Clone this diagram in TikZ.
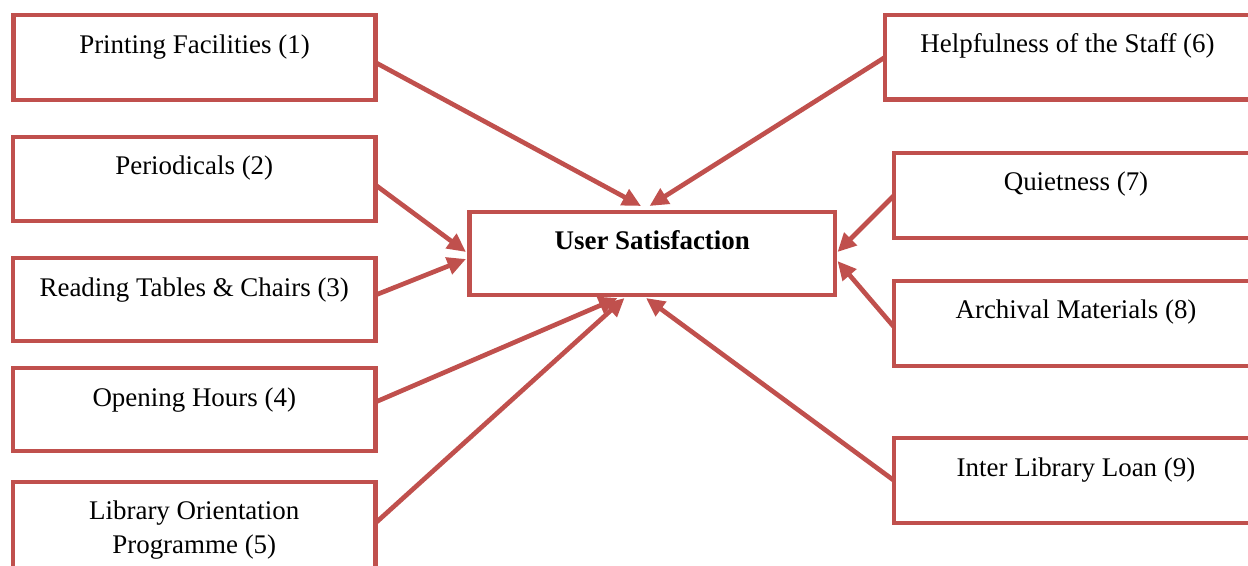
\documentclass[tikz,border=0pt]{standalone}
\usepackage{fontspec}
\setmainfont{Liberation Serif}
\usetikzlibrary{arrows.meta,calc}
\definecolor{boxred}{HTML}{C0504D}

\begin{document}
\begin{tikzpicture}[x=0.75pt,y=-0.75pt,
  box/.style={draw=boxred,line width=3.6pt,fill=white,rectangle,inner sep=0pt,outer sep=0pt},
  lbl/.style={anchor=base,inner sep=0pt,font=\fontsize{20.2}{24}\selectfont},
  conn/.style={draw=boxred,line width=3.5pt,-{Triangle[length=14pt,width=13pt]}}]
\useasboundingbox (0,0) rectangle (1248,565);
\clip (0,0) rectangle (1248,565);

% factor boxes, left column
\node[box,minimum width=271.5pt,minimum height=63.75pt] (b1) at (194.5,57.5) {};
\node[box,minimum width=271.9pt,minimum height=63pt]    (b2) at (194.25,179) {};
\node[box,minimum width=271.9pt,minimum height=62.25pt] (b3) at (194.25,299.5) {};
\node[box,minimum width=271.9pt,minimum height=62.25pt] (b4) at (194.25,409.5) {};
\node[box,minimum width=271.9pt,minimum height=66pt]    (b5) at (194.25,526) {};

% factor boxes, right column
\node[box,minimum width=273.75pt,minimum height=63.4pt] (b6) at (1067.5,57.25) {};
\node[box,minimum width=273pt,minimum height=63.75pt]   (b7) at (1076,195.5) {};
\node[box,minimum width=273pt,minimum height=63.75pt]   (b8) at (1076,323.5) {};
\node[box,minimum width=273pt,minimum height=63.75pt]   (b9) at (1076,480.5) {};

% outcome box
\node[box,minimum width=274.1pt,minimum height=62.25pt] (c) at (652.25,253.5) {};

% labels
\node[lbl] (l1) at ($(b1.north)+(0,38)$) {Printing Facilities (1)};
\node[lbl] (l2) at ($(b2.north)+(0,37)$) {Periodicals (2)};
\node[lbl] (l3) at ($(b3.north)+(0,38)$) {Reading Tables \& Chairs (3)};
\node[lbl] (l4) at ($(b4.north)+(0,38)$) {Opening Hours (4)};
\node[lbl] (l5a) at ($(b5.north)+(0,37)$) {Library Orientation};
\node[lbl] (l5b) at ($(b5.north)+(0,71)$) {Programme (5)};
\node[lbl] (l6) at ($(b6.north)+(0,38)$) {Helpfulness of the Staff (6)};
\node[lbl] (l7) at ($(b7.north)+(0,37)$) {Quietness (7)};
\node[lbl] (l8) at ($(b8.north)+(0,37)$) {Archival Materials (8)};
\node[lbl] (l9) at ($(b9.north)+(0,38)$) {Inter Library Loan (9)};
\node[lbl] (lc) at ($(c.north)+(0,37)$) {\textbf{User Satisfaction}};

% connectors into the outcome box
\draw[conn] ($(b1.east)+(0,5)$)   -- ($(c.north west)+(171.5,-6)$);
\draw[conn] ($(b2.east)+(0,6)$)   -- ($(c.west)+(-3.5,-1.5)$);
\draw[conn] ($(b3.east)+(0,-4.5)$) -- ($(c.west)+(-3.5,5.5)$);
\draw[conn] ($(b4.east)+(0,-7.5)$) -- ($(c.south west)+(148,3)$);
\draw[conn] ($(b5.east)+(0,-3)$)  -- ($(c.south west)+(155,3)$);
\draw[conn] ($(b6.west)+(0,0)$)   -- ($(c.north west)+(180,-6)$);
\draw[conn] ($(b7.west)+(0,0)$)   -- ($(c.east)+(2.5,-1.5)$);
\draw[conn] ($(b8.west)+(0,3.5)$) -- ($(c.east)+(2.5,7.5)$);
\draw[conn] ($(b9.west)+(0,0)$)   -- ($(c.south west)+(176.5,3)$);
\end{tikzpicture}
\end{document}
